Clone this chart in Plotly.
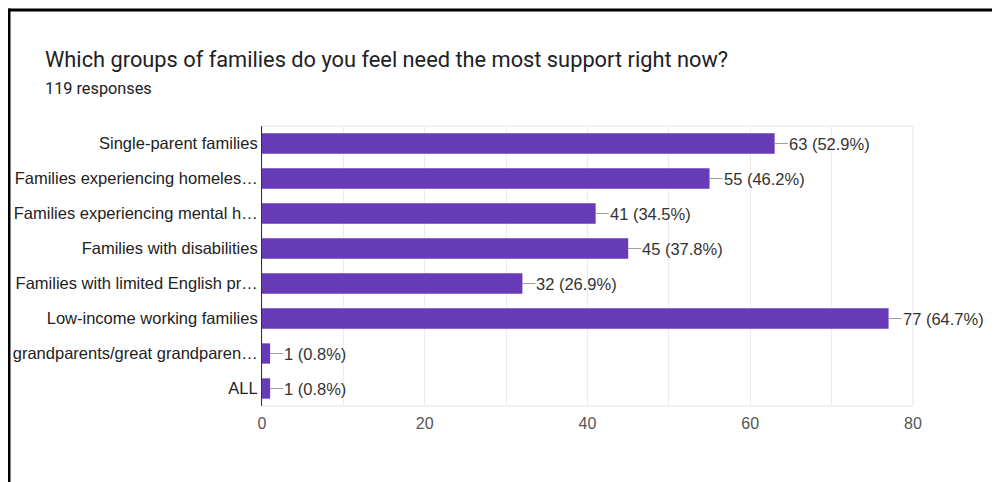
import plotly.graph_objects as go

categories = [
    "Single-parent families",
    "Families experiencing homeles…",
    "Families experiencing mental h…",
    "Families with disabilities",
    "Families with limited English pr…",
    "Low-income working families",
    "grandparents/great grandparen…",
    "ALL",
]
counts = [63, 55, 41, 45, 32, 77, 1, 1]
percents = [52.9, 46.2, 34.5, 37.8, 26.9, 64.7, 0.8, 0.8]
total_responses = 119
title_text = "Which groups of families do you feel need the most support right now?"
tick_values = [0, 20, 40, 60, 80]

PURPLE = "#673ab7"
OFF = 8  # default body margin of the html page
W, H = 1000 - OFF, 482 - OFF
# page-pixel positions of the plot area
L, R, T, B = 262, 913, 126, 406
pw, ph = R - L, B - T

def px_x(p):
    return (p - L) / pw

def px_y(p):
    return (B - p) / ph

fig = go.Figure()
fig.add_trace(go.Bar(
    y=categories, x=counts, orientation="h",
    marker=dict(color=PURPLE, line=dict(width=0)),
    width=0.58, hoverinfo="skip",
))

annotations = []
for c, v, p in zip(categories, counts, percents):
    annotations.append(dict(
        x=v, y=c, xref="x", yref="y",
        text=f"{v} ({p}%)", showarrow=True, arrowhead=0, arrowwidth=1,
        arrowcolor="#9e9e9e", ax=13, ay=0, xanchor="left", yanchor="middle",
        font=dict(family="Liberation Sans, Arial", size=16.5, color="#333333"),
        borderpad=0, standoff=0, startstandoff=0,
    ))

annotations.append(dict(
    x=px_x(43), y=px_y(60), xref="paper", yref="paper",
    text=title_text, showarrow=False, xanchor="left", yanchor="middle",
    font=dict(family="Roboto", size=21.8, color="#202124"),
))
annotations.append(dict(
    x=px_x(43), y=px_y(88), xref="paper", yref="paper",
    text=f"{total_responses} responses", showarrow=False, xanchor="left", yanchor="middle",
    font=dict(family="Roboto", size=16.3, color="#202124"),
))

shapes = [
    dict(type="rect", xref="paper", yref="paper", x0=0, x1=1, y0=0, y1=1,
         line=dict(color="#e6e6e6", width=1), layer="below"),
    dict(type="line", xref="paper", yref="paper", x0=px_x(8.5), x1=px_x(1010),
         y0=px_y(10), y1=px_y(10), line=dict(color="#000000", width=3)),
    dict(type="line", xref="paper", yref="paper", x0=px_x(9), x1=px_x(9),
         y0=px_y(8.5), y1=px_y(490), line=dict(color="#000000", width=3)),
]

fig.update_layout(
    width=W, height=H,
    margin=dict(l=L - OFF, r=(W + OFF) - R, t=T - OFF, b=(H + OFF) - B, pad=0,
                autoexpand=False),
    paper_bgcolor="white", plot_bgcolor="white",
    showlegend=False,
    annotations=annotations, shapes=shapes,
    xaxis=dict(
        range=[0, 80], tickvals=tick_values, showgrid=True, gridcolor="#ececec",
        gridwidth=1, zeroline=False, showline=False, ticks="",
        ticklabelstandoff=6,
        tickfont=dict(family="Liberation Sans, Arial", size=16, color="#555555"),
        minor=dict(dtick=10, showgrid=True, gridcolor="#ececec", gridwidth=1),
        fixedrange=True, automargin=False,
    ),
    yaxis=dict(
        autorange="reversed", showgrid=False, zeroline=False, showline=True,
        linecolor="#333333", linewidth=1, ticks="",
        ticklabelstandoff=0,
        tickfont=dict(family="Liberation Sans, Arial", size=16.5, color="#222222"),
        fixedrange=True, automargin=False,
    ),
)

fig.write_html("out.html")
